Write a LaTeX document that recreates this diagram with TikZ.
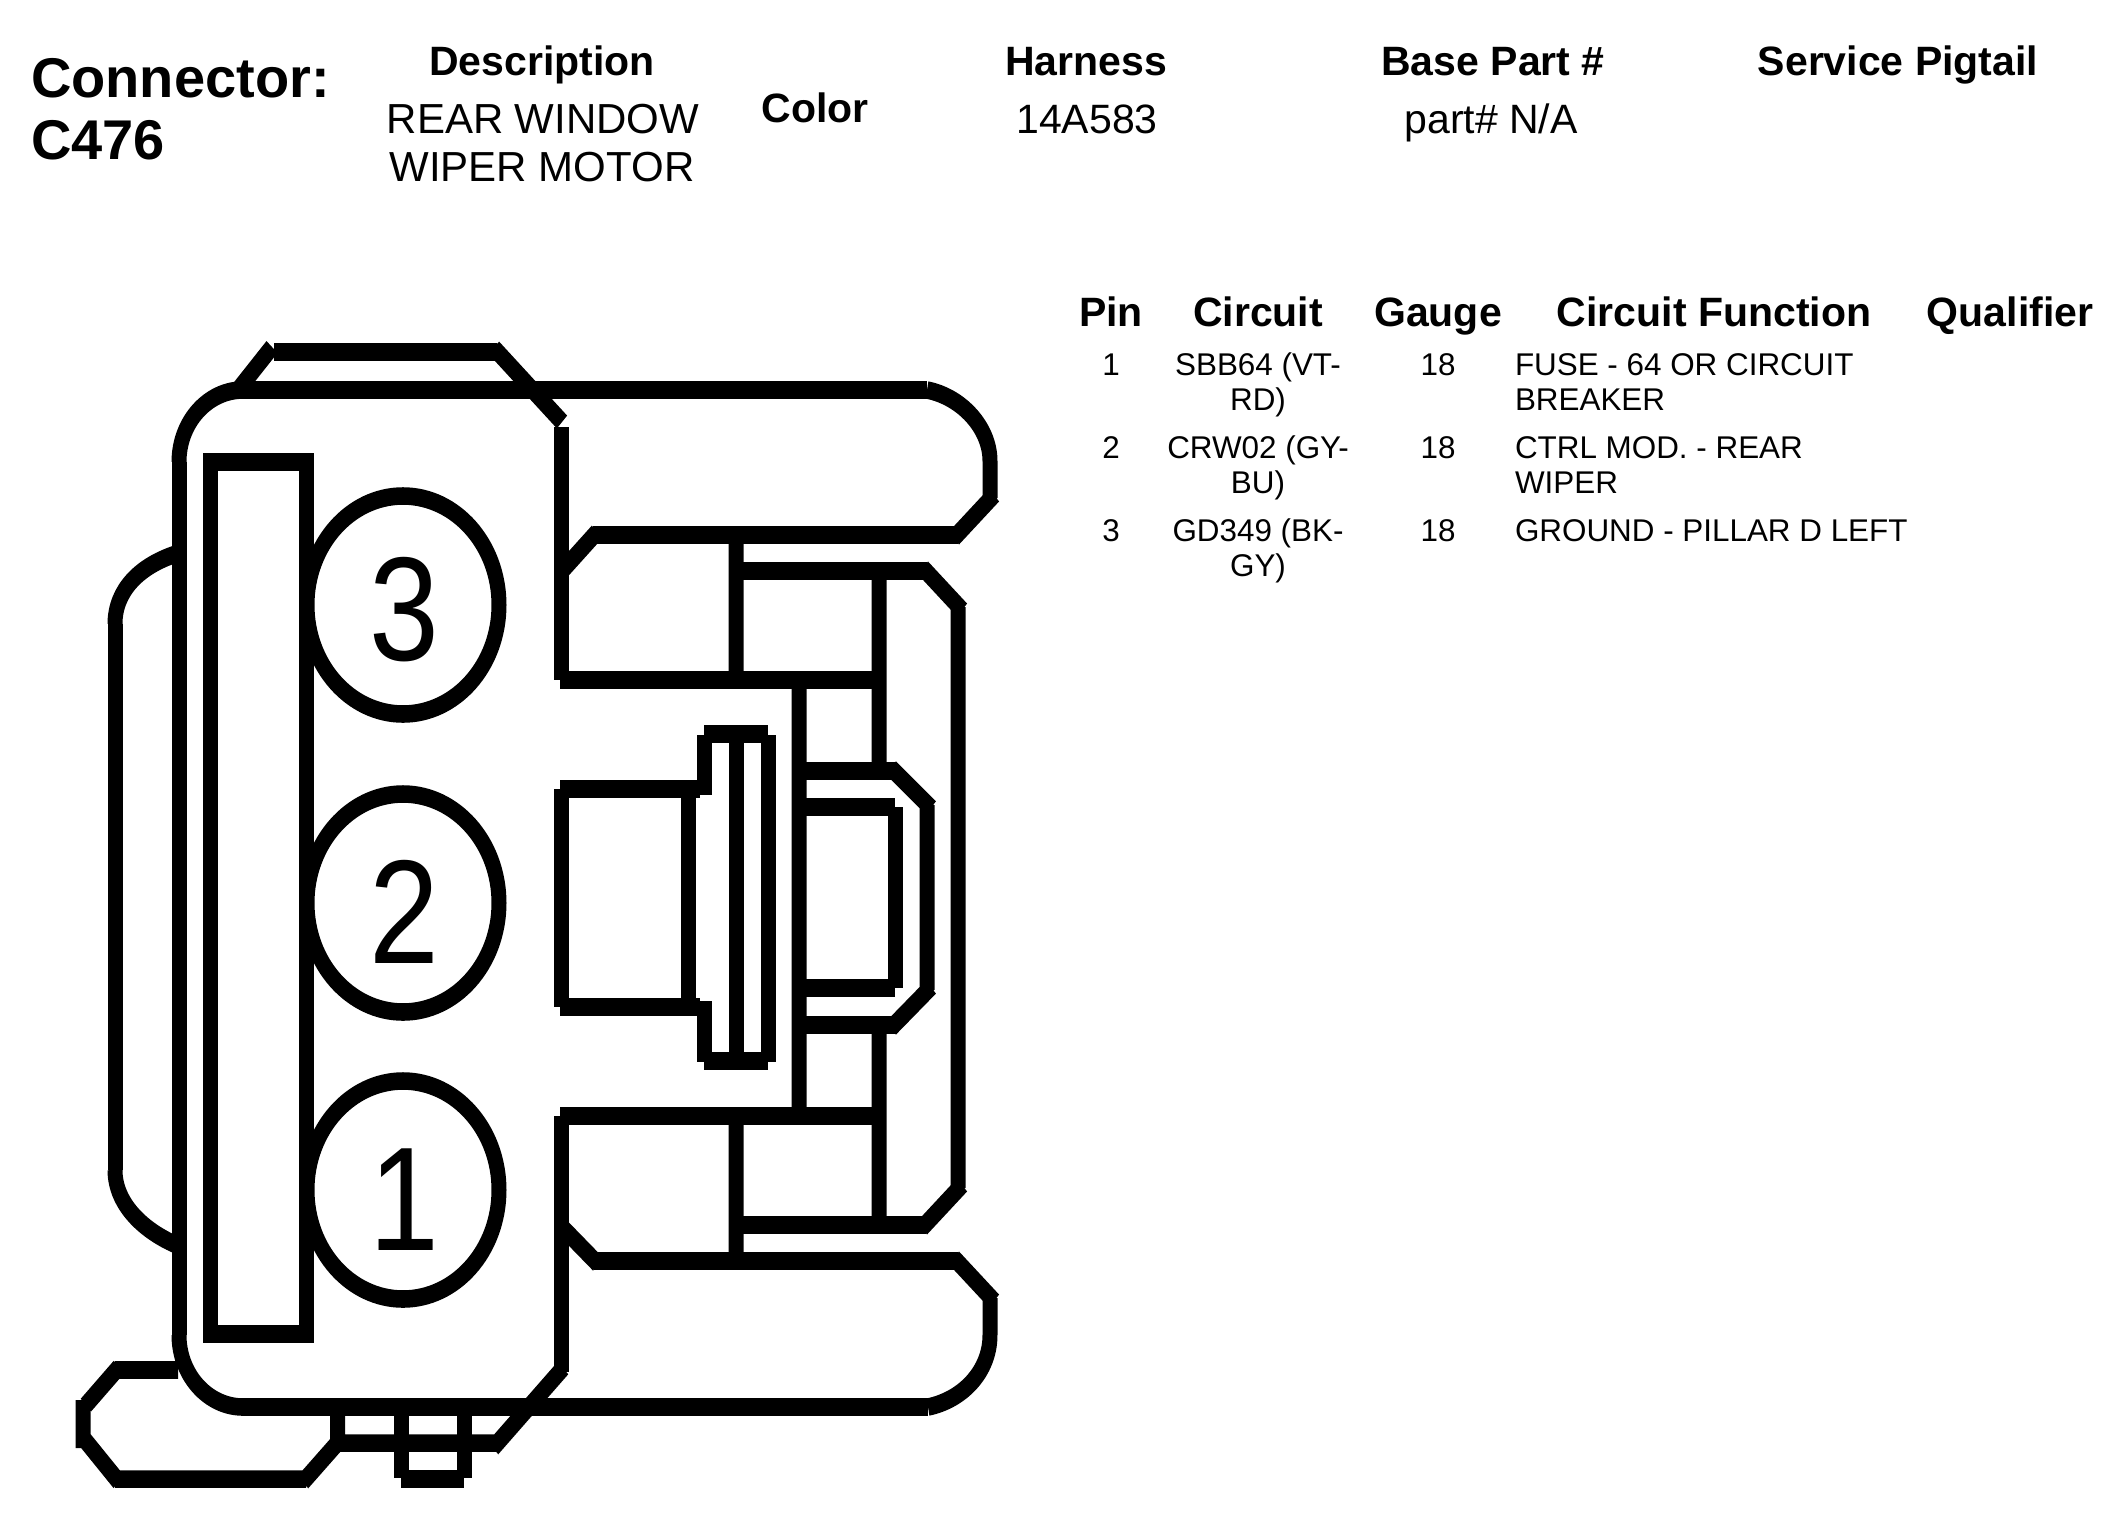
\documentclass[tikz,border=0pt]{standalone}
\usepackage{fontspec}
\setmainfont{Liberation Sans}
\newcommand{\fsz}[2]{\fontsize{#1}{#2}\selectfont}
\tikzset{
  ln/.style={draw=black,line width=15pt,line cap=butt,line join=miter},
  txt/.style={inner sep=0pt,outer sep=0pt,anchor=base,text=black},
  title/.style={txt,font=\fsz{56}{62}\bfseries,anchor=base west},
  hd/.style={txt,font=\fsz{41}{48}\bfseries},
  val/.style={txt,font=\fsz{42}{48}},
  cell/.style={txt,font=\fsz{31.4}{35}},
  digit/.style={txt,font=\fsz{132}{132}}
}
\begin{document}
\begin{tikzpicture}[x=1pt,y=-1pt]
\fill[white] (0,0) rectangle (2115,1515);
\useasboundingbox (0,0) rectangle (2115,1515);
% connector drawing: vertically stretched strokes as in the reference
\begin{scope}[transform canvas={yscale=1.17},x=1pt,y=-0.8547pt]
 % top latch
 \draw[ln] (274,352)--(497,352) (272,347)--(238,390) (494,348)--(562,422);
 % body outline
 \draw[ln] (243,390)--(927,390)
   (179,462)--(179,1335)
   (243,1407)--(928,1407)
   (561,427)--(561,680)
   (561,1116)--(561,1372);
 \draw[ln] (179,462) .. controls (179,422) and (208,390) .. (243,390);
 \draw[ln] (179,1335) .. controls (179,1375) and (208,1407) .. (243,1407);
 % upper right ear
 \draw[ln] (927,390) .. controls (962,397) and (990,428) .. (990,461);
 \draw[ln] (990,461)--(990,498) (994,495)--(954,538) (958,535)--(593,535) (597,532)--(561,572);
 % lower right ear
 \draw[ln] (928,1407) .. controls (962,1400) and (990,1372) .. (990,1335);
 \draw[ln] (990,1335)--(990,1298) (994,1301)--(954,1258) (958,1261)--(594,1261) (598,1264)--(561,1226);
 % left bump
 \draw[ln] (115,624)--(115,1170);
 \draw[ln] (115,624) .. controls (115,590) and (140,565) .. (179,553);
 \draw[ln] (115,1170) .. controls (115,1205) and (145,1232) .. (179,1246);
 % long key slot
 \draw[ln] (210.5,462) rectangle (306.5,1334);
 % pin cavities
 \draw[ln] (403,605) ellipse [x radius=96,y radius=109];
 \draw[ln] (403,903) ellipse [x radius=96,y radius=109];
 \draw[ln] (403,1190) ellipse [x radius=96,y radius=109];
 % upper block
 \draw[ln] (560,680)--(879,680) (736,535)--(736,680)
   (736,571)--(927,571) (923,568)--(962,610) (958,607)--(958,1188)
   (962,1185)--(922,1228) (926,1225)--(736,1225)
   (736,1116)--(736,1261)
   (879,571)--(879,771) (799,680)--(799,1116)
   (560,1116)--(879,1116)
   (879,1025)--(879,1225);
 % centre plug right side
 \draw[ln] (799,771)--(895,771) (891,768)--(931,808) (927,805)--(927,990)
   (931,987)--(891,1028) (895,1025)--(799,1025);
 \draw[ln] (799,807)--(895,807) (895,807)--(895,988) (895,988)--(799,988);
 % centre plug left side
 \draw[ln] (560,789)--(700,789) (561,789)--(561,1007) (560,1007)--(700,1007)
   (688,789)--(688,1007)
   (704,735)--(704,795) (704,1001)--(704,1062)
   (704,734)--(768,734) (704,1061)--(768,1061)
   (768,735)--(768,1062) (736,734)--(736,1061);
 % bottom clip
 \draw[ln] (178,1370)--(115,1370) (119,1367)--(86,1405) (83,1400)--(83,1448) (85,1440)--(119,1482)
   (115,1479)--(306,1479) (303,1482)--(340,1440) (337.5,1407)--(337.5,1443)
   (337,1443)--(497,1443) (493,1448)--(563,1368);
 \draw[ln] (401,1407)--(401,1478) (401,1479)--(464,1479) (464,1478)--(464,1407);
\end{scope}
% digits
\node[digit] (d3) at (404,660) {\scalebox{.95}[1.12]{3}};
\node[digit] (d2) at (404,963) {\scalebox{.95}[1.12]{2}};
\node[digit] (d1) at (404,1250) {\scalebox{.95}[1.12]{1}};
% header
\node[title] (conn) at (31,97) {Connector:};
\node[title] (cname) at (31,159) {C476};
\node[hd] (hdesc) at (542,75) {Description};
\node[val] (vdesc1) at (543,133) {REAR WINDOW};
\node[val] (vdesc2) at (542,181) {WIPER MOTOR};
\node[hd] (hcolor) at (815,122) {Color};
\node[hd] (hharn) at (1086,75) {Harness};
\node[txt,font=\fsz{41}{48}] (vharn) at (1087,133) {14A583};
\node[hd] (hbase) at (1493,75) {Base Part \#};
\node[txt,font=\fsz{41}{48}] (vbase) at (1491,133) {part\# N/A};
\node[hd] (hserv) at (1898,75) {Service Pigtail};
% table
\node[hd] (tpin) at (1111,326) {Pin};
\node[hd] (tcir) at (1258,326) {Circuit};
\node[hd] (tgau) at (1438,326) {Gauge};
\node[hd] (tfun) at (1714,326) {Circuit Function};
\node[hd] (tqua) at (2010,326) {Qualifier};
\node[cell] (p1) at (1111,375) {1};
\node[cell] (c1a) at (1258,375) {SBB64 (VT-};
\node[cell] (c1b) at (1258,410) {RD)};
\node[cell] (g1) at (1438,375) {18};
\node[cell,anchor=base west] (f1a) at (1515,375) {FUSE - 64 OR CIRCUIT};
\node[cell,anchor=base west] (f1b) at (1515,410) {BREAKER};
\node[cell] (p2) at (1111,458) {2};
\node[cell] (c2a) at (1258,458) {CRW02 (GY-};
\node[cell] (c2b) at (1258,493) {BU)};
\node[cell] (g2) at (1438,458) {18};
\node[cell,anchor=base west] (f2a) at (1515,458) {CTRL MOD. - REAR};
\node[cell,anchor=base west] (f2b) at (1515,493) {WIPER};
\node[cell] (p3) at (1111,541) {3};
\node[cell] (c3a) at (1258,541) {GD349 (BK-};
\node[cell] (c3b) at (1258,576) {GY)};
\node[cell] (g3) at (1438,541) {18};
\node[cell,anchor=base west] (f3) at (1515,541) {GROUND - PILLAR D LEFT};
\end{tikzpicture}
\end{document}
